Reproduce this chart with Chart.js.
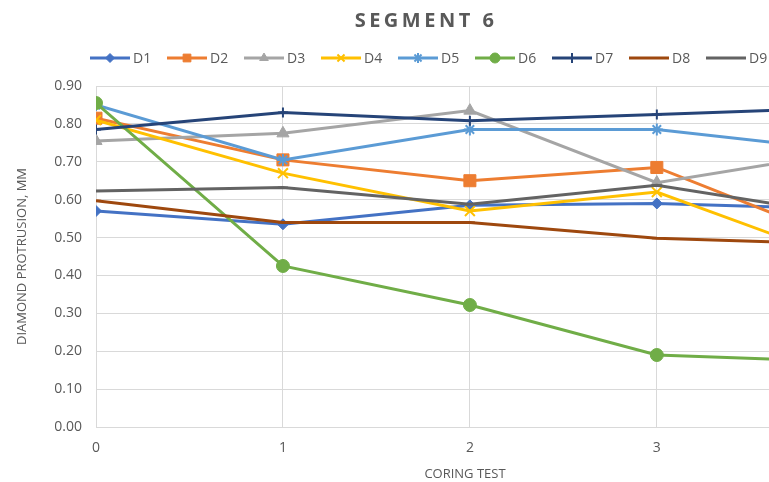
<!DOCTYPE html>
<html>
<head>
<meta charset="utf-8">
<title>Segment 6</title>
<script src="https://cdn.jsdelivr.net/npm/chart.js@4/dist/chart.umd.min.js"></script>
<style>
  html, body { margin: 0; padding: 0; background: #fff; overflow: hidden; }
  #wrap { position: relative; width: 769px; height: 482px; }
</style>
</head>
<body>
<div id="wrap"><canvas id="segChart" width="769" height="482"></canvas></div>
<script>
// coring test number (x) and diamond protrusion, mm for each diamond
const tests = [0, 1, 2, 3, 4];
const d1 = [0.57, 0.535, 0.585, 0.59, 0.575];
const d2 = [0.815, 0.705, 0.65, 0.685, 0.49];
const d3 = [0.755, 0.775, 0.835, 0.645, 0.725];
const d4 = [0.81, 0.67, 0.57, 0.62, 0.44];
const d5 = [0.85, 0.705, 0.785, 0.785, 0.73];
const d6 = [0.855, 0.425, 0.322, 0.19, 0.172];
const d7 = [0.785, 0.83, 0.808, 0.825, 0.842];
const d8 = [0.597, 0.54, 0.54, 0.498, 0.483];
const d9 = [0.623, 0.632, 0.588, 0.638, 0.56];

const seriesNames = ['D1', 'D2', 'D3', 'D4', 'D5', 'D6', 'D7', 'D8', 'D9'];
const seriesValues = [d1, d2, d3, d4, d5, d6, d7, d8, d9];
const yTicks = [0, 0.1, 0.2, 0.3, 0.4, 0.5, 0.6, 0.7, 0.8, 0.9];

const colors = ['#4472C4', '#ED7D31', '#A5A5A5', '#FFC000', '#5B9BD5', '#70AD47', '#264478', '#9E480E', '#636363'];
const markers = ['rectRot', 'rect', 'triangle', 'crossRot', 'star', 'circle', 'cross', 'line', 'line'];
const markerSize = [5.5, 8.5, 7, 7, 6, 6.5, 5, 5, 5];
const legendSize = [4.5, 5.5, 5, 5, 5, 5, 5, 5, 5];

const GREY_TEXT = '#595959';
const FONT = "'Open Sans', 'Liberation Sans', sans-serif";

const strokeMarker = s => s === 'crossRot' || s === 'star' || s === 'cross' || s === 'line';

const datasets = seriesNames.map((name, i) => ({
    label: name,
    data: tests.map((t, k) => ({ x: t, y: seriesValues[i][k] })),
    borderColor: colors[i],
    backgroundColor: colors[i],
    borderWidth: 3,
    pointStyle: markers[i],
    pointRadius: markerSize[i],
    pointBorderWidth: strokeMarker(markers[i]) ? 2 : 1,
    tension: 0,
    order: seriesNames.length - 1 - i   // later series drawn on top
}));

// title, legend and x-axis caption drawn on the canvas
const decorations = {
    id: 'decorations',
    afterDraw(chart) {
        const ctx = chart.ctx;
        ctx.save();

        // title
        ctx.font = 'bold 20px ' + FONT;
        ctx.fillStyle = GREY_TEXT;
        ctx.textBaseline = 'alphabetic';
        ctx.textAlign = 'left';
        ctx.letterSpacing = '3.5px';
        const title = 'SEGMENT 6';
        const tw = ctx.measureText(title).width;
        ctx.fillText(title, 426 - tw / 2, 27);
        ctx.letterSpacing = '0px';

        // legend: short line with marker, then the name
        const ly = 58;
        seriesNames.forEach((name, i) => {
            const x0 = 90 + i * 77;
            ctx.strokeStyle = colors[i];
            ctx.fillStyle = colors[i];
            ctx.lineWidth = 3;
            ctx.beginPath();
            ctx.moveTo(x0, ly);
            ctx.lineTo(x0 + 40, ly);
            ctx.stroke();
            ctx.lineWidth = strokeMarker(markers[i]) ? 2 : 1;
            Chart.helpers.drawPoint(ctx, {
                pointStyle: markers[i],
                radius: legendSize[i],
                rotation: 0,
                borderWidth: ctx.lineWidth
            }, x0 + 20, ly);
            ctx.font = '14px ' + FONT;
            ctx.fillStyle = GREY_TEXT;
            ctx.textBaseline = 'middle';
            ctx.fillText(name, x0 + 43, ly + 1);
        });

        // x axis caption
        ctx.font = '13px ' + FONT;
        ctx.fillStyle = GREY_TEXT;
        ctx.textAlign = 'center';
        ctx.textBaseline = 'middle';
        ctx.fillText('CORING TEST', 465, 474);

        ctx.restore();
    }
};

const ctx = document.getElementById('segChart').getContext('2d');
const chart = new Chart(ctx, {
    type: 'line',
    data: { datasets },
    plugins: [decorations],
    options: {
        responsive: false,
        animation: false,
        // plot runs up to the right edge of the canvas
        layout: { autoPadding: false, padding: { top: 86, left: 0, right: 0, bottom: 0 } },
        plugins: {
            legend: { display: false },
            title: { display: false },
            tooltip: { enabled: false }
        },
        scales: {
            x: {
                type: 'linear',
                min: 0,
                max: 3.6,
                afterBuildTicks(scale) {
                    scale.ticks = tests.filter(t => t <= scale.max).map(v => ({ value: v }));
                },
                afterFit(scale) {
                    scale.height = 55;
                    scale.paddingLeft = 0;
                    scale.paddingRight = 0;
                },
                grid: { color: '#D9D9D9', lineWidth: 1, drawTicks: false },
                border: { color: '#D9D9D9', width: 1 },
                ticks: {
                    padding: 13,
                    color: GREY_TEXT,
                    font: { family: FONT, size: 14 },
                    callback: v => String(v)
                }
            },
            y: {
                min: 0,
                max: 0.9,
                afterBuildTicks(scale) {
                    scale.ticks = yTicks.map(v => ({ value: v }));
                },
                afterFit(scale) {
                    scale.width = 96;
                    scale.paddingTop = 0;
                    scale.paddingBottom = 0;
                },
                grid: { color: '#D9D9D9', lineWidth: 1, drawTicks: false },
                border: { color: '#D9D9D9', width: 1 },
                ticks: {
                    padding: 14,
                    color: GREY_TEXT,
                    font: { family: FONT, size: 14 },
                    callback: v => v.toFixed(2)
                },
                title: {
                    display: true,
                    text: 'DIAMOND PROTRUSION, MM',
                    color: GREY_TEXT,
                    font: { family: FONT, size: 13 },
                    padding: { top: 14, bottom: 0 }
                }
            }
        }
    }
});
</script>
</body>
</html>
